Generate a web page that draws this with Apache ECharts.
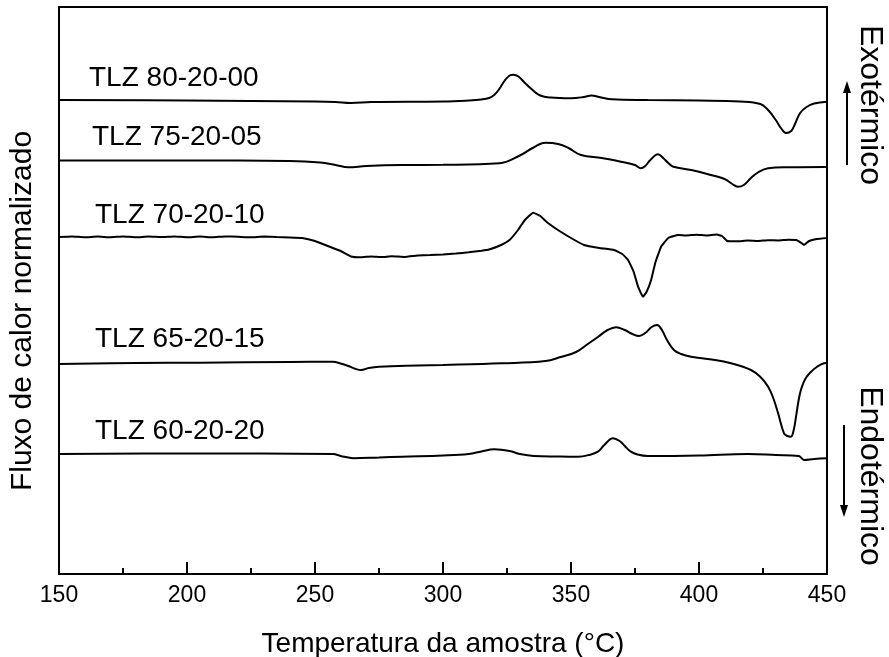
<!DOCTYPE html>
<html>
<head>
<meta charset="utf-8">
<script src="https://cdn.jsdelivr.net/npm/echarts@6/dist/echarts.min.js"></script>
<style>
html,body{margin:0;padding:0;background:#fff;}
#chart{width:889px;height:657px;}
</style>
</head>
<body>
<div id="chart"></div>
<script>
// Temperature (°C), normalized heat flow (a.u., exo up)
const tlz80_20_00 = [[150,474],[200,473.5],[250,472.5],[258,472],[264,471],[272,472],[300,472.5],[310,473.5],[315,474.5],[318,476],[320,479],[322,485],[324,493],[326,498.5],[327.5,499.3],[329.5,497.5],[332,491],[335,484],[338,478.5],[342,476.5],[350,475.8],[355,477],[358,478.5],[361,477],[366,474.7],[380,474],[400,473.5],[416,472.5],[424,470],[427,464],[430,454],[432,446],[434,441],[436,443],[437.5,450],[439.5,461],[442,467],[445,470.5],[450,472.3]];
const tlz75_20_05 = [[150,413.5],[200,413.5],[240,413],[252,411.5],[258,409],[263,406.7],[270,408],[284,409],[300,409.2],[322,410.7],[330,418.5],[335,426],[340,431.3],[345,430],[349,426],[353.9,419],[362,416],[369.5,412.3],[375,409],[377.3,405.7],[379,408],[381,414],[384,419.7],[386,416],[388,411],[390,407.3],[397,404],[404.7,399],[410,395],[413,390],[415.2,387.3],[417.5,389],[420.3,396],[423,401.5],[427,405.7],[435,406.7],[450,407]];
const tlz70_20_10 = [[150,337],[155,337.6],[160,336.7],[165,337.4],[170,336.8],[175,337.6],[180,336.7],[185,337.4],[190,336.9],[195,337.6],[200,336.8],[205,337.4],[210,336.7],[215,337.6],[220,337.2],[225,336.7],[230,337.4],[235,337],[240,336.6],[245,336],[250,333],[255,328],[260,323],[264,317.5],[268,316.7],[272,317.6],[276,316.9],[280,317.7],[285,317.1],[290,318.4],[295,318.9],[300,319.5],[305,320.4],[310,321.8],[315,323.3],[318,324.5],[322.7,329],[326,334],[329.3,344],[332,354],[335.2,361.3],[338,358],[341,351],[344.9,344],[350,336],[355.1,329],[361,326],[366.8,324],[370,320],[372.3,314],[374.5,302],[376.2,287.3],[378.1,277.3],[379.5,282],[381.3,294],[383,312],[385.2,327.3],[388,336],[391.8,339],[395,338.6],[399,339.3],[403,338.6],[407,339.4],[409,338],[411,333],[415,332.7],[419,333.4],[423,333],[427,333.8],[431,333.5],[435,334.3],[438,334],[440,331],[441,329],[443,333],[446,335],[450,336]];
const tlz65_20_15 = [[150,210],[180,211],[205,211.3],[240,212],[257,212.3],[260,210.5],[263,208],[266,205],[268,204],[271,206],[275,207.3],[290,208.5],[300,209],[323,210.7],[340,213],[346,217],[352,222],[356,229],[360.5,237],[364,243.5],[367.6,246.7],[371,244],[374,240],[376.6,238],[379,241],[381.5,247],[383.6,249],[385.5,244],[387.5,234],[390.2,224],[393,220],[396.9,217.3],[405,214.5],[412.5,210.7],[420.3,204],[424,197],[427,187.3],[429,176],[430.9,160.7],[433.2,140.7],[434.5,138],[435.9,137.3],[437,144],[437.9,157.3],[438.8,172],[439.8,184],[441.5,195],[443.8,202.3],[446,207],[448.8,210.7],[450,211]];
const tlz60_20_20 = [[150,120],[200,120.5],[257,120],[260,118],[262,117],[265,115.7],[275,116.5],[284,117.3],[300,118.5],[310,120],[315,122.5],[320,124.7],[326,123],[330,120],[335.5,118],[345,117.5],[352.7,117.3],[357,119],[360.5,122.3],[363,129],[366.4,135.7],[369,133],[371,128],[373.4,122.3],[376,119.5],[380,118],[400,118.5],[419,120],[430,119],[439,118],[440,116],[441,114],[445,115],[450,115.7]];

const sampleNames = ['TLZ 80-20-00','TLZ 75-20-05','TLZ 70-20-10','TLZ 65-20-15','TLZ 60-20-20'];
const xTicks = {min:150, max:450, step:50};
const xTitle = 'Temperatura da amostra (°C)';
const yTitle = 'Fluxo de calor normalizado';
const exoLabel = 'Exotérmico';
const endoLabel = 'Endotérmico';

const FONT = '"Liberation Sans", Arial, Helvetica, sans-serif';
const seriesData = [tlz80_20_00, tlz75_20_05, tlz70_20_10, tlz65_20_15, tlz60_20_20];
const smoothness = [0.4, 0.4, 0.1, 0.4, 0.4];
const labelPos = [[89,78],[92,137],[95,215],[95,339],[95,431]];

const chart = echarts.init(document.getElementById('chart'), null, {renderer:'canvas'});
const graphics = [];
sampleNames.forEach((n,i)=>{
  graphics.push({type:'text', x:labelPos[i][0], y:labelPos[i][1], style:{text:n, fill:'#000', font:'28px '+FONT, textAlign:'left', textVerticalAlign:'middle'}});
});
graphics.push({type:'text', x:23, y:311, rotation:Math.PI/2, style:{text:yTitle, fill:'#000', font:'30px '+FONT, textAlign:'center', textVerticalAlign:'middle'}});
graphics.push({type:'text', x:870, y:105, rotation:-Math.PI/2, style:{text:exoLabel, fill:'#000', font:'32px '+FONT, textAlign:'center', textVerticalAlign:'middle'}});
graphics.push({type:'text', x:870, y:476, rotation:-Math.PI/2, style:{text:endoLabel, fill:'#000', font:'32px '+FONT, textAlign:'center', textVerticalAlign:'middle'}});
graphics.push({type:'line', shape:{x1:847,y1:165,x2:847,y2:90}, style:{stroke:'#000', lineWidth:2}});
graphics.push({type:'polygon', shape:{points:[[847,81],[843,93],[851,93]]}, style:{fill:'#000'}});
graphics.push({type:'line', shape:{x1:844,y1:425,x2:844,y2:508}, style:{stroke:'#000', lineWidth:2}});
graphics.push({type:'polygon', shape:{points:[[844,517],[840,505],[848,505]]}, style:{fill:'#000'}});

chart.setOption({
  animation:false,
  backgroundColor:'#fff',
  grid:{left:59, right:62, top:7, bottom:83, outerBoundsMode:'none', containLabel:false, show:true, borderColor:'#000', borderWidth:2, backgroundColor:'transparent'},
  xAxis:{
    type:'value', min:xTicks.min, max:xTicks.max, interval:xTicks.step,
    name:xTitle, nameLocation:'middle', nameGap:56,
    nameTextStyle:{fontSize:28, color:'#000', fontFamily:FONT},
    axisLine:{lineStyle:{color:'#000', width:2}},
    axisTick:{inside:true, length:12, lineStyle:{color:'#000', width:2}},
    minorTick:{show:true, splitNumber:2, length:6, lineStyle:{color:'#000', width:2}},
    axisLabel:{fontSize:23, color:'#000', fontFamily:FONT, margin:10},
    splitLine:{show:false}, minorSplitLine:{show:false}
  },
  yAxis:{
    type:'value', min:0, max:567,
    axisLine:{show:true, lineStyle:{color:'#000', width:2}},
    axisTick:{show:false}, axisLabel:{show:false}, splitLine:{show:false}
  },
  series: seriesData.map((d,i)=>({
    type:'line', name:sampleNames[i], data:d, showSymbol:false, smooth:smoothness[i],
    lineStyle:{color:'#000', width:2}, itemStyle:{color:'#000'}
  })),
  graphic: graphics
});
</script>
</body>
</html>
